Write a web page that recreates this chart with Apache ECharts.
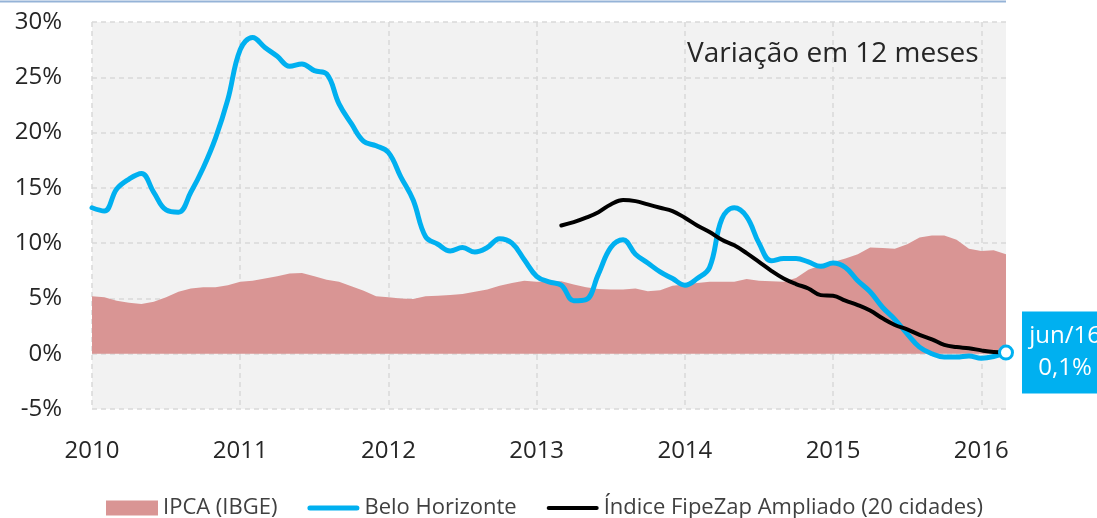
<!DOCTYPE html>
<html>
<head>
<meta charset="utf-8">
<script src="https://cdn.jsdelivr.net/npm/echarts@6/dist/echarts.min.js"></script>
<style>
  html, body { margin: 0; padding: 0; background: #fff; }
  #chart { width: 1097px; height: 518px; }
</style>
</head>
<body>
<div id="chart"></div>
<script>
// meses de jan/2010 a mar/2016 (posicao no eixo)
var anos = ["2010", "2011", "2012", "2013", "2014", "2015", "2016"];
var meses = [];
anos.forEach(function (a) {
  for (var m = 1; m <= 12; m++) meses.push(a + "-" + m);
});
meses = meses.slice(0, 75);

var ipca = [5.2, 5.1, 4.8, 4.6, 4.5, 4.7, 5.1, 5.6, 5.9, 6.0, 6.0, 6.2,
  6.5, 6.6, 6.8, 7.0, 7.25, 7.3, 7.0, 6.7, 6.5, 6.1, 5.7, 5.2,
  5.1, 5.0, 4.95, 5.2, 5.25, 5.3, 5.4, 5.6, 5.8, 6.15, 6.4, 6.6,
  6.5, 6.5, 6.55, 6.25, 6.0, 5.85, 5.8, 5.8, 5.9, 5.65, 5.75, 6.15,
  6.25, 6.4, 6.5, 6.5, 6.5, 6.75, 6.6, 6.55, 6.5, 6.85, 7.6, 8.0,
  8.3, 8.6, 9.0, 9.6, 9.55, 9.5, 9.9, 10.5, 10.7, 10.7, 10.3, 9.5,
  9.3, 9.35, 9.0];

var beloHorizonte = [13.2, 12.9, 14.9, 15.8, 16.3, 14.6, 13.0, 12.8, 14.6, 16.8, 19.5, 23.0,
  27.5, 28.6, 27.7, 26.9, 26.0, 26.2, 25.6, 25.3, 22.6, 20.8, 19.2, 18.8,
  18.2, 16.0, 13.9, 10.6, 9.9, 9.3, 9.6, 9.2, 9.6, 10.4, 10.0, 8.5,
  7.0, 6.5, 6.2, 4.8, 4.9, 7.2, 9.6, 10.3, 9.0, 8.2, 7.4, 6.8,
  6.2, 6.8, 7.8, 12.2, 13.2, 12.4, 10.0, 8.4, 8.6, 8.6, 8.3, 7.9,
  8.2, 7.8, 6.6, 5.6, 4.2, 3.1, 1.8, 0.6, 0.0, -0.3, -0.3, -0.2,
  -0.4, -0.25, 0.1];

var fipeZap = [null, null, null, null, null, null, null, null, null, null, null, null,
  null, null, null, null, null, null, null, null, null, null, null, null,
  null, null, null, null, null, null, null, null, null, null, null, null,
  null, null, 11.6, 11.9, 12.3, 12.8, 13.5, 13.9, 13.8, 13.5, 13.2, 12.9,
  12.3, 11.6, 11.0, 10.3, 9.8, 9.1, 8.3, 7.5, 6.8, 6.3, 5.9, 5.3,
  5.25, 4.8, 4.4, 3.9, 3.2, 2.6, 2.2, 1.7, 1.3, 0.8, 0.6, 0.5,
  0.3, 0.15, 0.1];

var fonte = "'Open Sans', 'Noto Sans', sans-serif";
var iconeLinha = "path://M2.5,0 L49.5,0 A2.5,2.5 0 0 1 49.5,5 L2.5,5 A2.5,2.5 0 0 1 2.5,0 Z";
var iconeLinhaFina = "path://M2,0 L50,0 A2,2 0 0 1 50,4 L2,4 A2,2 0 0 1 2,0 Z";

var myChart = echarts.init(document.getElementById("chart"));
var option = {
  animation: false,
  textStyle: { fontFamily: fonte },
  graphic: [
    {
      type: "line",
      shape: { x1: 0, y1: 1.5, x2: 1006, y2: 1.5 },
      style: { stroke: "#95b3d7", lineWidth: 2 }
    }
  ],
  title: {
    text: "Variação em 12 meses",
    left: 687,
    top: 40,
    padding: 0,
    textStyle: { fontSize: 28, fontWeight: "normal", color: "#262626", fontFamily: fonte }
  },
  grid: {
    left: 92,
    right: 91,
    top: 22,
    bottom: 109,
    show: true,
    backgroundColor: "#f2f2f2",
    borderWidth: 0
  },
  legend: {
    left: 101,
    top: 492,
    itemWidth: 52,
    itemHeight: 15,
    itemGap: 30,
    textStyle: { fontSize: 22, color: "#404040", fontFamily: fonte },
    data: [
      { name: "IPCA (IBGE)", icon: "rect" },
      { name: "Belo Horizonte", icon: iconeLinha },
      { name: "Índice FipeZap Ampliado (20 cidades)", icon: iconeLinhaFina }
    ]
  },
  xAxis: {
    type: "category",
    boundaryGap: false,
    data: meses,
    axisLine: { show: false },
    axisTick: { show: false },
    axisLabel: {
      interval: 0,
      margin: 30,
      fontSize: 24,
      color: "#262626",
      formatter: function (v, i) {
        return i % 12 === 0 ? v.split("-")[0] : "";
      }
    },
    splitLine: {
      show: true,
      interval: function (i) { return i % 12 === 0; },
      lineStyle: { color: "#d9d9d9", type: [5, 4], width: 1.5 }
    }
  },
  yAxis: {
    type: "value",
    min: -5,
    max: 30,
    interval: 5,
    axisLine: { show: false },
    axisTick: { show: false },
    axisLabel: {
      margin: 30,
      fontSize: 24,
      color: "#262626",
      formatter: "{value}%"
    },
    splitLine: {
      show: true,
      lineStyle: { color: "#d9d9d9", type: [5, 4], width: 1.5 }
    }
  },
  series: [
    {
      name: "IPCA (IBGE)",
      type: "line",
      data: ipca,
      symbol: "none",
      lineStyle: { width: 0, color: "#d99594" },
      itemStyle: { color: "#d99594" },
      areaStyle: { color: "#d99594", opacity: 1 },
      z: 2
    },
    {
      name: "Belo Horizonte",
      type: "line",
      data: beloHorizonte,
      symbol: "none",
      smooth: 0.4,
      lineStyle: { width: 5, color: "#00b0f0", cap: "round" },
      itemStyle: { color: "#00b0f0" },
      z: 3
    },
    {
      name: "Índice FipeZap Ampliado (20 cidades)",
      type: "line",
      data: fipeZap,
      symbol: "none",
      smooth: 0.4,
      lineStyle: { width: 4, color: "#000000", cap: "round" },
      itemStyle: { color: "#000000" },
      z: 4,
      markPoint: {
        symbol: "circle",
        symbolSize: 13,
        itemStyle: { color: "#fff", borderColor: "#00b0f0", borderWidth: 3 },
        label: {
          show: true,
          position: "right",
          distance: 8,
          formatter: "jun/16\n0,1%",
          backgroundColor: "#00b0f0",
          color: "#fff",
          fontSize: 24,
          lineHeight: 32,
          align: "center",
          width: 72,
          offset: [52, 0],
          padding: [9, 25, 9, 7],
          fontFamily: fonte
        },
        data: [{ coord: [74, beloHorizonte[74]] }]
      }
    }
  ]
};
myChart.setOption(option);
</script>
</body>
</html>
